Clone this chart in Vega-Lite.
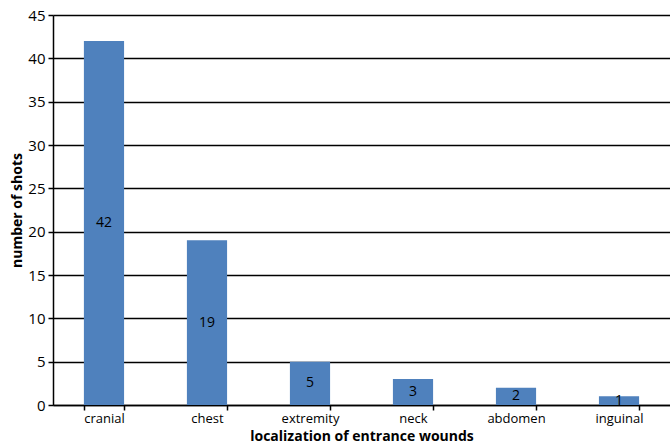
{
  "$schema": "https://vega.github.io/schema/vega-lite/v6.json",
  "width": 617,
  "height": 390,
  "autosize": {"type": "none"},
  "padding": {"left": 53, "top": 15, "right": 0, "bottom": 43},
  "background": "white",
  "config": {
    "view": {"stroke": null},
    "font": "Open Sans"
  },
  "data": {
    "values": [
      {"location": "cranial", "shots": 42},
      {"location": "chest", "shots": 19},
      {"location": "extremity", "shots": 5},
      {"location": "neck", "shots": 3},
      {"location": "abdomen", "shots": 2},
      {"location": "inguinal", "shots": 1}
    ]
  },
  "encoding": {
    "x": {
      "field": "location",
      "type": "nominal",
      "sort": null,
      "scale": {"paddingInner": 0.61, "paddingOuter": 0.3},
      "axis": {
        "title": "localization of entrance wounds",
        "titleFontSize": 14,
        "titleFontWeight": "bold",
        "titleColor": "black",
        "titlePadding": 4,
        "labelAngle": 0,
        "labelFontSize": 13,
        "labelColor": "black",
        "labelPadding": 2,
        "domainColor": "black",
        "domainWidth": 1.5,
        "tickColor": "black",
        "tickWidth": 1.5,
        "tickSize": 5,
        "tickBand": "extent"
      }
    }
  },
  "layer": [
    {
      "mark": {"type": "bar", "color": "#4F81BD"},
      "encoding": {
        "y": {
          "field": "shots",
          "type": "quantitative",
          "scale": {"domain": [0, 45]},
          "axis": {
            "title": "number of shots",
            "titleFontSize": 14,
            "titleFontWeight": "bold",
            "titleColor": "black",
            "titlePadding": 3,
            "values": [0, 5, 10, 15, 20, 25, 30, 35, 40, 45],
            "labelFontSize": 15,
            "labelColor": "black",
            "labelPadding": 3,
            "domainColor": "black",
            "domainWidth": 1.5,
            "tickColor": "black",
            "tickWidth": 1.5,
            "tickSize": 5,
            "grid": true,
            "gridColor": "black",
            "gridWidth": 1.5
          }
        }
      }
    },
    {
      "transform": [{"calculate": "datum.shots / 2", "as": "mid"}],
      "mark": {"type": "text", "fontSize": 14, "color": "black", "baseline": "middle"},
      "encoding": {
        "y": {"field": "mid", "type": "quantitative"},
        "text": {"field": "shots", "type": "quantitative"}
      }
    }
  ]
}
